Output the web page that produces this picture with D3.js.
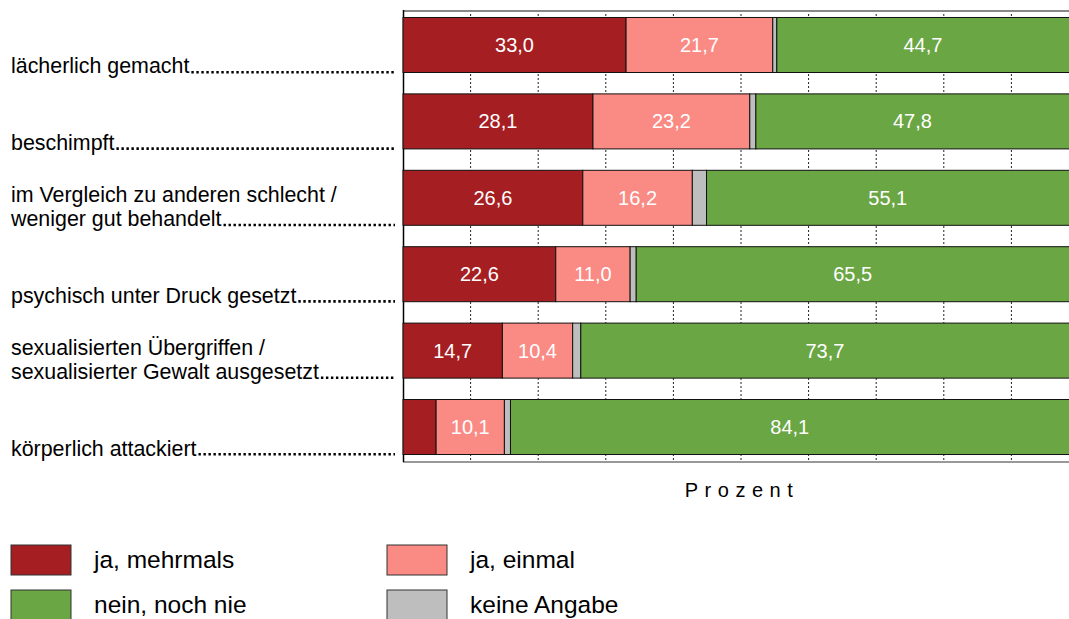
<!DOCTYPE html>
<html><head><meta charset="utf-8">
<script src="https://cdn.jsdelivr.net/npm/d3@7"></script>
<style>
html,body{margin:0;padding:0;background:#fff;overflow:hidden}
text{font-family:"Liberation Sans",Arial,sans-serif}
</style></head>
<body>
<svg id="c" width="1069" height="619"></svg>
<script>
const categories = [
  ["lächerlich gemacht"],
  ["beschimpft"],
  ["im Vergleich zu anderen schlecht /","weniger gut behandelt"],
  ["psychisch unter Druck gesetzt"],
  ["sexualisierten Übergriffen /","sexualisierter Gewalt ausgesetzt"],
  ["körperlich attackiert"]
];
const seriesNames = ["ja, mehrmals","ja, einmal","keine Angabe","nein, noch nie"];
const jaMehrmals = [33.0, 28.1, 26.6, 22.6, 14.7, 4.9];
const jaEinmal   = [21.7, 23.2, 16.2, 11.0, 10.4, 10.1];
const keineAngabe= [0.6, 0.9, 2.1, 0.9, 1.2, 0.9];
const neinNie    = [44.7, 47.8, 55.1, 65.5, 73.7, 84.1];
const showLabel  = [true, true, false, true]; // per series
const minLabel = 6;
const xTicks = [10,20,30,40,50,60,70,80,90];
const axisTitle = "Prozent";
const colors = ["#A51E22","#FA8A84","#BEBEBE","#6BA645"];
const legendOrder = [[0,1],[3,2]];

const svg = d3.select("#c");
const x = d3.scaleLinear().domain([0,100]).range([403,1079]);
const y = d3.scaleBand().domain(d3.range(categories.length)).range([10,462]).paddingInner(0.28).paddingOuter(0.098);

const series = [jaMehrmals, jaEinmal, keineAngabe, neinNie];

// grid
svg.append("g").selectAll("line").data(xTicks).join("line")
  .attr("x1",d=>x(d)).attr("x2",d=>x(d)).attr("y1",10).attr("y2",462)
  .attr("stroke","#222").attr("stroke-width",1).attr("stroke-dasharray","2,2");

// frame
svg.append("line").attr("x1",403).attr("x2",1069).attr("y1",11).attr("y2",11).attr("stroke","#888").attr("stroke-width",2);
svg.append("line").attr("x1",403).attr("x2",1069).attr("y1",462).attr("y2",462).attr("stroke","#777").attr("stroke-width",1.5);
svg.append("line").attr("x1",403.5).attr("x2",403.5).attr("y1",10).attr("y2",462).attr("stroke","#000").attr("stroke-width",1.5);

// bars
categories.forEach((c,i)=>{
  let acc = 0;
  series.forEach((s,k)=>{
    const v = s[i];
    const x0 = x(acc), x1 = x(acc+v);
    svg.append("rect").attr("x",x0).attr("y",y(i)).attr("width",x1-x0).attr("height",y.bandwidth())
      .attr("fill",colors[k]).attr("stroke","#111").attr("stroke-width",1);
    if(showLabel[k] && v>=minLabel){
      svg.append("text").attr("x",(x0+Math.min(x1,1069))/2).attr("y",y(i)+y.bandwidth()/2+7)
        .attr("text-anchor","middle").attr("fill","#fff").attr("font-size",20)
        .text(v.toFixed(1).replace(".",","));
    }
    acc += v;
  });
  // category label
  const lines = c;
  const bottom = y(i)+y.bandwidth()+1;
  lines.forEach((ln,j)=>{
    const t = svg.append("text").attr("x",11).attr("y",bottom-(lines.length-1-j)*24)
      .attr("font-size",21.4).attr("fill","#000").text(ln);
    if(j===lines.length-1){
      const w = t.node().getComputedTextLength();
      svg.append("line").attr("x1",11+w+2).attr("x2",395).attr("y1",bottom-1.3).attr("y2",bottom-1.3)
        .attr("stroke","#000").attr("stroke-width",2.6).attr("stroke-dasharray","2.4,2.6");
    }
  });
});

// axis title
svg.append("text").attr("x",742).attr("y",497).attr("text-anchor","middle")
  .attr("font-size",20).attr("letter-spacing","6.5px").attr("fill","#000").text(axisTitle);

// legend
const lx = [11,387], ly = [545,590];
legendOrder.forEach((row,r)=>row.forEach((k,cI)=>{
  svg.append("rect").attr("x",lx[cI]).attr("y",ly[r]).attr("width",60).attr("height",30)
    .attr("fill",colors[k]).attr("stroke","#333").attr("stroke-width",1);
  svg.append("text").attr("x",lx[cI]+83).attr("y",ly[r]+23).attr("font-size",24.5).attr("fill","#000").text(seriesNames[k]);
}));
</script>
</body></html>
